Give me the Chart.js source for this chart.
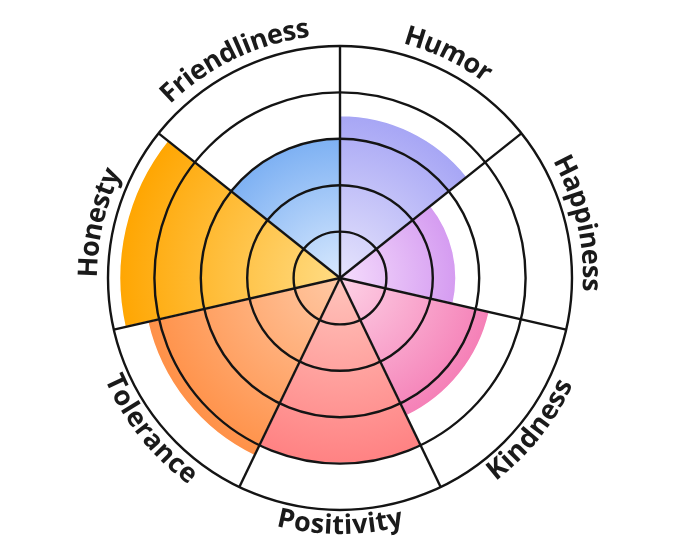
<!DOCTYPE html>
<html>
<head>
<meta charset="utf-8">
<script src="https://cdn.jsdelivr.net/npm/chart.js@4.4.1/dist/chart.umd.min.js"></script>
<style>
  html, body { margin: 0; padding: 0; background: #fff; }
  #wrap { width: 680px; height: 557px; }
</style>
</head>
<body>
<div id="wrap"><canvas id="traitChart" width="680" height="557"></canvas></div>
<script>
// ---- data ----
const traits = ["Humor", "Happiness", "Kindness", "Positivity", "Tolerance", "Honesty", "Friendliness"];
const scores = [3.5, 2.5, 3.3, 4, 4.25, 4.75, 3];
const ringMax = 5;
const ringStep = 1;

// centre -> rim colour of each slice
const innerColors = ["#e6e4fc", "#f5dcfc", "#fdd2e6", "#ffc4bc", "#ffc8a4", "#ffdc84", "#d8e9fe"];
const outerColors = ["#a7a6f5", "#d59cf1", "#f580b7", "#ff8283", "#ff9148", "#ffa602", "#7eb1f3"];

// radial gradient per slice, from the centre out to the slice's own edge
function sliceFill(context) {
    const i = context.dataIndex;
    const chart = context.chart;
    const scale = chart.scales.r;
    if (!scale || scale.xCenter === undefined || !scale.drawingArea) return outerColors[i];
    const r = scale.getDistanceFromCenterForValue(scores[i]);
    const g = chart.ctx.createRadialGradient(scale.xCenter, scale.yCenter, 0, scale.xCenter, scale.yCenter, r);
    g.addColorStop(0, innerColors[i]);
    g.addColorStop(1, outerColors[i]);
    return g;
}

// =======================================================
// CURVED LABELS AROUND THE RIM
// =======================================================
const curvedLabels = {
    id: "curvedLabels",
    afterDraw(chart) {
        const scale = chart.scales.r;
        const ctx = chart.ctx;
        const step = 2 * Math.PI / traits.length;

        ctx.save();
        ctx.font = "700 27px 'Open Sans'";
        ctx.fillStyle = "#1a1a1a";
        ctx.textAlign = "center";
        ctx.textBaseline = "alphabetic";

        traits.forEach((label, i) => {
            const mid = step * (i + 0.5);                 // clockwise from top
            const bottom = mid > Math.PI / 2 && mid < 3 * Math.PI / 2;
            const R = scale.drawingArea + (bottom ? 24 : 11);
            const Rspace = bottom ? R - 8 : R + 8;
            const chars = [...label];
            const widths = chars.map(c => ctx.measureText(c).width);
            const total = widths.reduce((a, b) => a + b, 0);

            let acc = 0;
            chars.forEach((c, k) => {
                const offs = (acc + widths[k] / 2 - total / 2) / Rspace;
                const a = bottom ? mid - offs : mid + offs;
                const x = scale.xCenter + R * Math.sin(a);
                const y = scale.yCenter - R * Math.cos(a);
                ctx.save();
                ctx.translate(x, y);
                ctx.rotate(bottom ? a + Math.PI : a);
                ctx.fillText(c, 0, 0);
                ctx.restore();
                acc += widths[k];
            });
        });
        ctx.restore();
    }
};

new Chart(document.getElementById("traitChart"), {
    type: "polarArea",
    data: {
        labels: traits,
        datasets: [{
            data: scores,
            backgroundColor: sliceFill,
            borderColor: "#ffffff",
            borderWidth: 1.5
        }]
    },
    options: {
        responsive: false,
        animation: false,
        layout: { padding: { top: 46, bottom: 47, left: 0, right: 0 } },
        plugins: {
            legend: { display: false },
            tooltip: { enabled: false }
        },
        scales: {
            r: {
                min: 0,
                max: ringMax,
                ticks: { display: false, stepSize: ringStep },
                grid: { color: "#141414", lineWidth: 2.4, circular: true, z: 1 },
                angleLines: { display: true, color: "#141414", lineWidth: 2.4 },
                pointLabels: { display: false }
            }
        }
    },
    plugins: [curvedLabels]
});
</script>
</body>
</html>
